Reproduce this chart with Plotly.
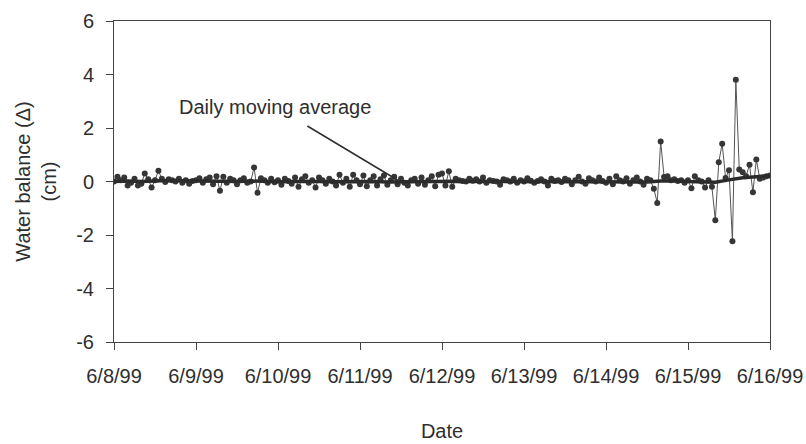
import pandas as pd
import plotly.graph_objects as go

# Hourly water balance (cm), 6/8/99 00:00 through 6/16/99 00:00
balance = [
    # 6/8
    0.00, 0.18, 0.05, 0.15, -0.15, -0.05, 0.10, -0.15, -0.08, 0.30, 0.08, -0.22,
    0.05, 0.40, 0.10, -0.02, 0.08, 0.05, 0.00, 0.10, -0.05, 0.05, -0.08, 0.02,
    # 6/9
    0.05, 0.12, -0.05, 0.08, 0.15, -0.10, 0.20, -0.35, 0.18, -0.05, 0.10, 0.05,
    -0.10, 0.05, 0.12, -0.05, 0.00, 0.52, -0.42, 0.12, 0.05, -0.05, 0.10, -0.03,
    # 6/10
    0.05, -0.12, 0.10, 0.02, -0.08, 0.15, -0.20, 0.08, 0.20, -0.05, 0.05, -0.22,
    0.15, 0.05, -0.08, 0.10, 0.00, -0.15, 0.25, -0.05, 0.10, -0.20, 0.25, 0.05,
    # 6/11
    -0.10, 0.22, -0.18, 0.05, 0.20, -0.15, 0.08, 0.22, -0.12, 0.05, 0.18, -0.10,
    0.10, -0.05, -0.15, 0.05, 0.10, -0.08, 0.15, -0.12, 0.05, 0.20, -0.18, 0.25,
    # 6/12
    0.30, -0.15, 0.38, -0.20, 0.10, 0.05, 0.02, 0.00, 0.10, 0.03, 0.08, 0.00,
    0.15, -0.05, 0.05, 0.02, 0.00, -0.12, 0.08, 0.05, 0.00, 0.10, -0.05, 0.05,
    # 6/13
    0.00, 0.12, 0.03, -0.05, 0.02, 0.08, 0.00, -0.15, 0.10, 0.02, 0.05, -0.02,
    0.10, 0.05, -0.10, 0.05, 0.18, 0.00, -0.08, 0.12, 0.05, 0.00, 0.15, 0.02,
    # 6/14
    -0.05, 0.10, -0.10, 0.20, 0.05, 0.00, 0.12, -0.08, 0.05, 0.15, 0.00, -0.12,
    0.10, 0.05, -0.27, -0.80, 1.50, 0.17, 0.20, 0.05, 0.08, 0.02, 0.05, -0.05,
    # 6/15
    0.05, -0.25, 0.20, 0.05, 0.00, -0.22, 0.05, -0.20, -1.45, 0.72, 1.41, 0.13,
    0.42, -2.23, 3.80, 0.45, 0.35, 0.20, 0.63, -0.40, 0.82, 0.10, 0.15, 0.20,
    # 6/16
    0.22,
]

# Daily moving average (cm), every 4 hours
moving_avg = [
    0.00, 0.02, 0.00, 0.03, 0.04, 0.03,
    0.02, 0.03, 0.01, 0.00, 0.02, 0.00,
    -0.01, 0.00, 0.01, 0.00, -0.01, 0.00,
    0.01, 0.00, -0.02, -0.01, 0.00, 0.01,
    0.02, 0.01, 0.00, 0.00, -0.01, 0.00,
    0.00, 0.01, 0.00, -0.01, 0.00, 0.00,
    0.00, -0.01, -0.01, -0.02, 0.02, 0.03,
    0.00, -0.02, -0.03, 0.06, 0.14, 0.18,
    0.22,
]

tick_dates = ["1999-06-08", "1999-06-09", "1999-06-10", "1999-06-11", "1999-06-12",
              "1999-06-13", "1999-06-14", "1999-06-15", "1999-06-16"]
tick_labels = ["6/8/99", "6/9/99", "6/10/99", "6/11/99", "6/12/99",
               "6/13/99", "6/14/99", "6/15/99", "6/16/99"]
y_ticks = [-6, -4, -2, 0, 2, 4, 6]
y_labels = ["-6", "-4", "-2", "0", "2", "4", "6"]

hours = pd.date_range("1999-06-08", periods=len(balance), freq="h")
avg_times = pd.date_range("1999-06-08", periods=len(moving_avg), freq="4h")

ink = "#2e2e2e"
font_family = "Liberation Sans, Arial, Helvetica, sans-serif"

fig = go.Figure()
fig.add_trace(go.Scatter(
    x=hours, y=balance, mode="lines+markers",
    line=dict(color="#555555", width=1),
    marker=dict(color="#363636", size=6, symbol="circle"),
    name="Water balance",
))
fig.add_trace(go.Scatter(
    x=avg_times, y=moving_avg, mode="lines",
    line=dict(color="#2b2b2b", width=3.5),
    name="Daily moving average",
))

fig.add_annotation(
    x=pd.Timestamp("1999-06-11 11:40"), y=0, xref="x", yref="y",
    text="Daily moving average", showarrow=True, arrowhead=0,
    arrowwidth=1.5, arrowcolor=ink, ax=-125, ay=-75, borderpad=8,
    font=dict(family=font_family, size=20, color=ink),
)

axis_common = dict(
    showline=True, mirror=True, linecolor="#444444", linewidth=1,
    showgrid=False, zeroline=False, ticks="outside", tickcolor="#444444",
    automargin=False,
    tickfont=dict(family=font_family, size=20, color=ink),
)

fig.update_layout(
    width=806, height=444,
    margin=dict(l=114, r=36, t=21, b=102),
    paper_bgcolor="white", plot_bgcolor="white",
    showlegend=False,
    font=dict(family=font_family, size=20, color=ink),
    xaxis=dict(
        type="date", range=["1999-06-08", "1999-06-16"],
        tickvals=tick_dates, ticktext=tick_labels, ticklen=7,
        ticklabelstandoff=9,
        title=dict(text="Date", standoff=37,
                   font=dict(family=font_family, size=20, color=ink)),
        **axis_common,
    ),
    yaxis=dict(
        range=[-6, 6], tickvals=y_ticks, ticktext=y_labels, ticklen=7,
        ticklabelstandoff=8,
        title=dict(text="Water balance (Δ)<br>(cm)", standoff=14,
                   font=dict(family=font_family, size=20, color=ink)),
        **axis_common,
    ),
)

fig.write_html("out.html")
